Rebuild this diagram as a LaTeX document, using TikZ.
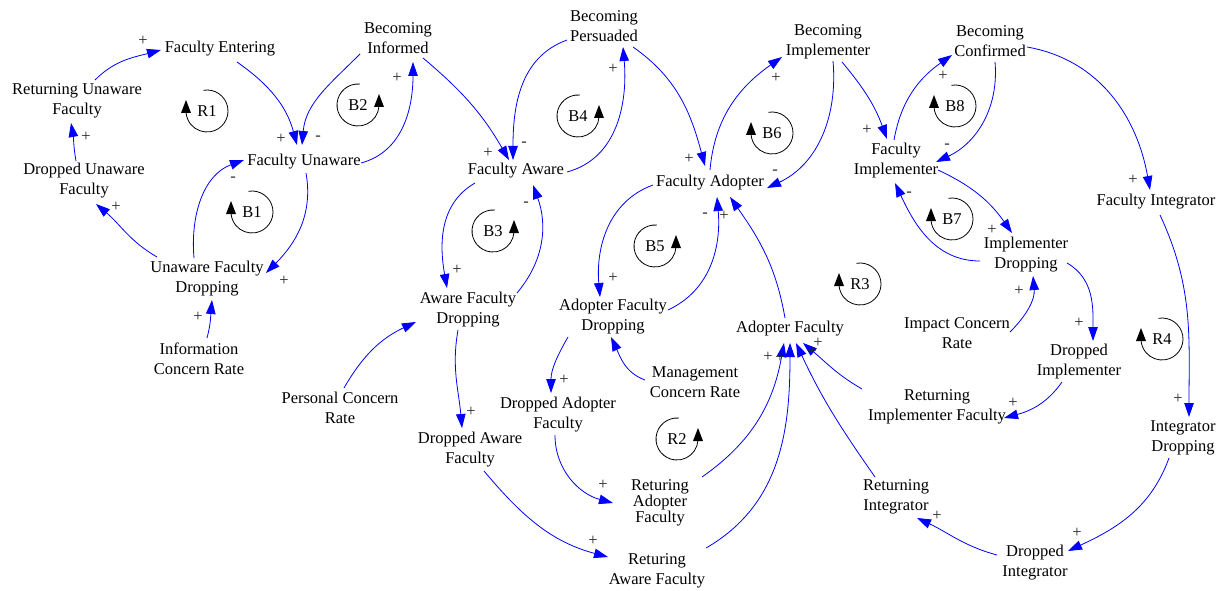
\documentclass[tikz,border=0pt]{standalone}
\usepackage{fontspec}
\setmainfont{Liberation Serif}
\usetikzlibrary{arrows.meta}
\newcommand\vfont{\rmfamily\fontsize{16.5}{20}\selectfont}
\newcommand\vfonttight{\rmfamily\fontsize{16.5}{14}\selectfont}
\begin{document}
\begin{tikzpicture}[x=1pt,y=1pt,
  var/.style={align=center,inner sep=1pt,font=\vfont,text=black},
  link/.style={draw=blue,line width=0.8pt,-{Triangle[length=14pt,width=9.5pt]}},
  pol/.style={font=\vfont,inner sep=0pt,text=black!85},
  larc/.style={draw=black,line width=0.8pt},
  llbl/.style={font=\vfont,inner sep=0pt}]
\useasboundingbox (0,0) rectangle (1223,-591);
% variables
\node[var] (fe) at (220,-49) {Faculty Entering};
\node[var] (ruf) at (77,-101) {Returning Unaware\\Faculty};
\node[var] (duf) at (84,-181) {Dropped Unaware\\Faculty};
\node[var] (fu) at (304,-162) {Faculty Unaware};
\node[var] (ufd) at (207,-279) {Unaware Faculty\\Dropping};
\node[var] (bi) at (398,-38) {Becoming\\Informed};
\node[var] (icr) at (199,-359) {Information\\Concern Rate};
\node[var] (bp) at (604,-26) {Becoming\\Persuaded};
\node[var] (fa) at (516,-171) {Faculty Aware};
\node[var] (fad) at (710,-183) {Faculty Adopter};
\node[var] (bim) at (828,-42) {Becoming\\Implementer};
\node[var] (bc) at (990,-41) {Becoming\\Confirmed};
\node[var] (fim) at (896,-161) {Faculty\\Implementer};
\node[var] (id) at (1026,-255) {Implementer\\Dropping};
\node[var] (fi) at (1156,-202) {Faculty Integrator};
\node[var] (afd) at (468,-310) {Aware Faculty\\Dropping};
\node[var] (adfd) at (613,-317) {Adopter Faculty\\Dropping};
\node[var] (af) at (790,-329) {Adopter Faculty};
\node[var] (mcr) at (695,-382) {Management\\Concern Rate};
\node[var] (daf) at (558,-415) {Dropped Adopter\\Faculty};
\node[var] (dawf) at (470,-450) {Dropped Aware\\Faculty};
\node[var] (pcr) at (340,-408) {Personal Concern\\Rate};
\node[var,font=\vfonttight] (raf) at (660,-503) {Returing\\Adopter\\Faculty};
\node[var] (rawf) at (657,-571) {Returing\\Aware Faculty};
\node[var] (icr2) at (957,-333) {Impact Concern\\Rate};
\node[var] (dim) at (1079,-362) {Dropped\\Implementer};
\node[var] (rif) at (937,-407) {Returning\\Implementer Faculty};
\node[var] (id2) at (1183,-438) {Integrator\\Dropping};
\node[var] (ri) at (896,-497) {Returning\\Integrator};
\node[var] (di) at (1035,-563) {Dropped\\Integrator};
% connectors
\draw[link] ([shift={(18,21)}]ruf.center) to[out=45,in=195] ([shift={(-59,-1)}]fe.center);
\draw[link] ([shift={(17,-13)}]fe.center) to[out=-35,in=105] ([shift={(-7,17)}]fu.center);
\draw[link] ([shift={(-38,-16)}]bi.center) to[out=225,in=85] ([shift={(-2,17)}]fu.center);
\draw[link] ([shift={(57,-1)}]fu.center) to[out=15,in=-90] ([shift={(15,-24)}]bi.center);
\draw[link] ([shift={(2,-11)}]fu.center) to[out=-80,in=45] ([shift={(59,6)}]ufd.center);
\draw[link] ([shift={(-13,21)}]ufd.center) to[out=95,in=200] ([shift={(-60,2)}]fu.center);
\draw[link] ([shift={(-50,22)}]ufd.center) to[out=150,in=-40] ([shift={(12,-23)}]duf.center);
\draw[link] ([shift={(-8,20)}]duf.center) to[out=100,in=-80] ([shift={(-6,-22)}]ruf.center);
\draw[link] ([shift={(8,21)}]icr.center) to[out=75,in=-95] ([shift={(5,-21)}]ufd.center);
\draw[link] ([shift={(25,-20)}]bi.center) to[out=-40,in=120] ([shift={(-7,11)}]fa.center);
\draw[link] ([shift={(-37,-14)}]bp.center) to[out=200,in=90] ([shift={(-3,11)}]fa.center);
\draw[link] ([shift={(51,-1)}]fa.center) to[out=15,in=-85] ([shift={(19,-21)}]bp.center);
\draw[link] ([shift={(29,-21)}]bp.center) to[out=-35,in=105] ([shift={(-5,17)}]fad.center);
\draw[link] ([shift={(0,13)}]fad.center) to[out=85,in=215] ([shift={(-46,-15)}]bim.center);
\draw[link] ([shift={(5,-19)}]bim.center) to[out=-85,in=25] ([shift={(57,-5)}]fad.center);
\draw[link] ([shift={(14,-20)}]bim.center) to[out=-50,in=110] ([shift={(-9,22)}]fim.center);
\draw[link] ([shift={(-2,21)}]fim.center) to[out=80,in=215] ([shift={(-38,-14)}]bc.center);
\draw[link] ([shift={(5,-21)}]bc.center) to[out=-85,in=25] ([shift={(40,-1)}]fim.center);
\draw[link] ([shift={(37,-6)}]bc.center) to[out=-10,in=100] ([shift={(-6,12)}]fi.center);
\draw[link] ([shift={(42,-9)}]fim.center) to[out=-25,in=125] ([shift={(-14,22)}]id.center);
\draw[link] ([shift={(-46,-6)}]id.center) to[out=180,in=-65] ([shift={(-1,-22)}]fim.center);
\draw[link] ([shift={(53,1)}]icr2.center) to[out=45,in=-85] ([shift={(7,-21)}]id.center);
\draw[link] ([shift={(41,-8)}]id.center) to[out=-30,in=90] ([shift={(14,21)}]dim.center);
\draw[link] ([shift={(-17,-20)}]dim.center) to[out=235,in=15] ([shift={(67,-11)}]rif.center);
\draw[link] ([shift={(4,-13)}]fi.center) to[out=-65,in=90] ([shift={(6,21)}]id2.center);
\draw[link] ([shift={(-14,-20)}]id2.center) to[out=-110,in=25] ([shift={(33,12)}]di.center);
\draw[link] ([shift={(-38,8)}]di.center) to[out=165,in=-25] ([shift={(21,-21)}]ri.center);
\draw[link] ([shift={(-21,20)}]ri.center) to[out=125,in=-65] ([shift={(6,-14)}]af.center);
\draw[link] ([shift={(-75,18)}]rif.center) to[out=150,in=-40] ([shift={(13,-14)}]af.center);
\draw[link] ([shift={(42,26)}]raf.center) to[out=35,in=-100] ([shift={(-6,-14)}]af.center);
\draw[link] ([shift={(49,23)}]rawf.center) to[out=30,in=-90] ([shift={(0,-14)}]af.center);
\draw[link] ([shift={(-5,11)}]af.center) to[out=100,in=-55] ([shift={(20,-14)}]fad.center);
\draw[link] ([shift={(-57,-2)}]fad.center) to[out=200,in=95] ([shift={(-13,20)}]adfd.center);
\draw[link] ([shift={(55,7)}]adfd.center) to[out=25,in=-85] ([shift={(7,-14)}]fad.center);
\draw[link] ([shift={(-50,2)}]mcr.center) to[out=160,in=-65] ([shift={(-2,-20)}]adfd.center);
\draw[link] ([shift={(-45,-20)}]adfd.center) to[out=240,in=90] ([shift={(-7,22)}]daf.center);
\draw[link] ([shift={(-3,-20)}]daf.center) to[out=-90,in=165] ([shift={(-47,0)}]raf.center);
\draw[link] ([shift={(-41,-12)}]fa.center) to[out=210,in=100] ([shift={(-21,22)}]afd.center);
\draw[link] ([shift={(49,17)}]afd.center) to[out=50,in=-70] ([shift={(17,-14)}]fa.center);
\draw[link] ([shift={(4,20)}]pcr.center) to[out=60,in=205] ([shift={(-52,-12)}]afd.center);
\draw[link] ([shift={(-10,-20)}]afd.center) to[out=-100,in=95] ([shift={(-8,22)}]dawf.center);
\draw[link] ([shift={(14,-21)}]dawf.center) to[out=-50,in=165] ([shift={(-49,14)}]rawf.center);
% polarities
\node[pol] (p1) at (143,-41) {+};
\node[pol] (p2) at (281,-139) {+};
\node[pol] (p3) at (318,-138) {-};
\node[pol] (p4) at (397,-78) {+};
\node[pol] (p5) at (284,-281) {+};
\node[pol] (p6) at (233,-179) {-};
\node[pol] (p7) at (116,-207) {+};
\node[pol] (p8) at (86,-137) {+};
\node[pol] (p9) at (198,-317) {+};
\node[pol] (p10) at (488,-153) {+};
\node[pol] (p11) at (524,-144) {-};
\node[pol] (p12) at (613,-69) {+};
\node[pol] (p13) at (689,-159) {+};
\node[pol] (p14) at (776,-78) {+};
\node[pol] (p15) at (775,-172) {-};
\node[pol] (p16) at (867,-130) {+};
\node[pol] (p17) at (943,-76) {+};
\node[pol] (p18) at (947,-146) {-};
\node[pol] (p19) at (1133,-180) {+};
\node[pol] (p20) at (992,-230) {+};
\node[pol] (p21) at (909,-194) {-};
\node[pol] (p22) at (1019,-291) {+};
\node[pol] (p23) at (1079,-323) {+};
\node[pol] (p24) at (1013,-403) {+};
\node[pol] (p25) at (1178,-399) {+};
\node[pol] (p26) at (1077,-533) {+};
\node[pol] (p27) at (937,-516) {+};
\node[pol] (p28) at (812,-352) {+};
\node[pol] (p29) at (818,-343) {+};
\node[pol] (p30) at (768,-357) {+};
\node[pol] (p31) at (780,-358) {+};
\node[pol] (p32) at (724,-216) {+};
\node[pol] (p33) at (613,-278) {+};
\node[pol] (p34) at (705,-215) {-};
\node[pol] (p36) at (564,-380) {+};
\node[pol] (p37) at (603,-485) {+};
\node[pol] (p38) at (457,-270) {+};
\node[pol] (p39) at (526,-204) {-};
\node[pol] (p41) at (471,-412) {+};
\node[pol] (p42) at (593,-541) {+};
% loop markers: clockwise (arrow on the left, pointing up)
\foreach \n/\t/\x/\y in {r1/R1/207/111, b1/B1/252/212, b6/B6/772/133, b8/B8/955/106, b7/B7/952/219, r3/R3/860/284, r4/R4/1162/339}{
  \node[llbl] (\n) at (\x,-\y) {\t};
  \draw[larc] ([shift={(100:21)}]\n.center) arc[start angle=100,end angle=-176,radius=21];
  \fill[black] ([shift={(-26,-2)}]\n.center) -- ([shift={(-16,-2)}]\n.center) -- ([shift={(-21,11)}]\n.center) -- cycle;
}
% counter-clockwise (arrow on the right, pointing up)
\foreach \n/\t/\x/\y in {b2/B2/358/105, b4/B4/578/116, b3/B3/493/231, b5/B5/655/246, r2/R2/677/439}{
  \node[llbl] (\n) at (\x,-\y) {\t};
  \draw[larc] ([shift={(85:21)}]\n.center) arc[start angle=85,end angle=356,radius=21];
  \fill[black] ([shift={(16,-2)}]\n.center) -- ([shift={(26,-2)}]\n.center) -- ([shift={(21,11)}]\n.center) -- cycle;
}
\end{tikzpicture}
\end{document}
